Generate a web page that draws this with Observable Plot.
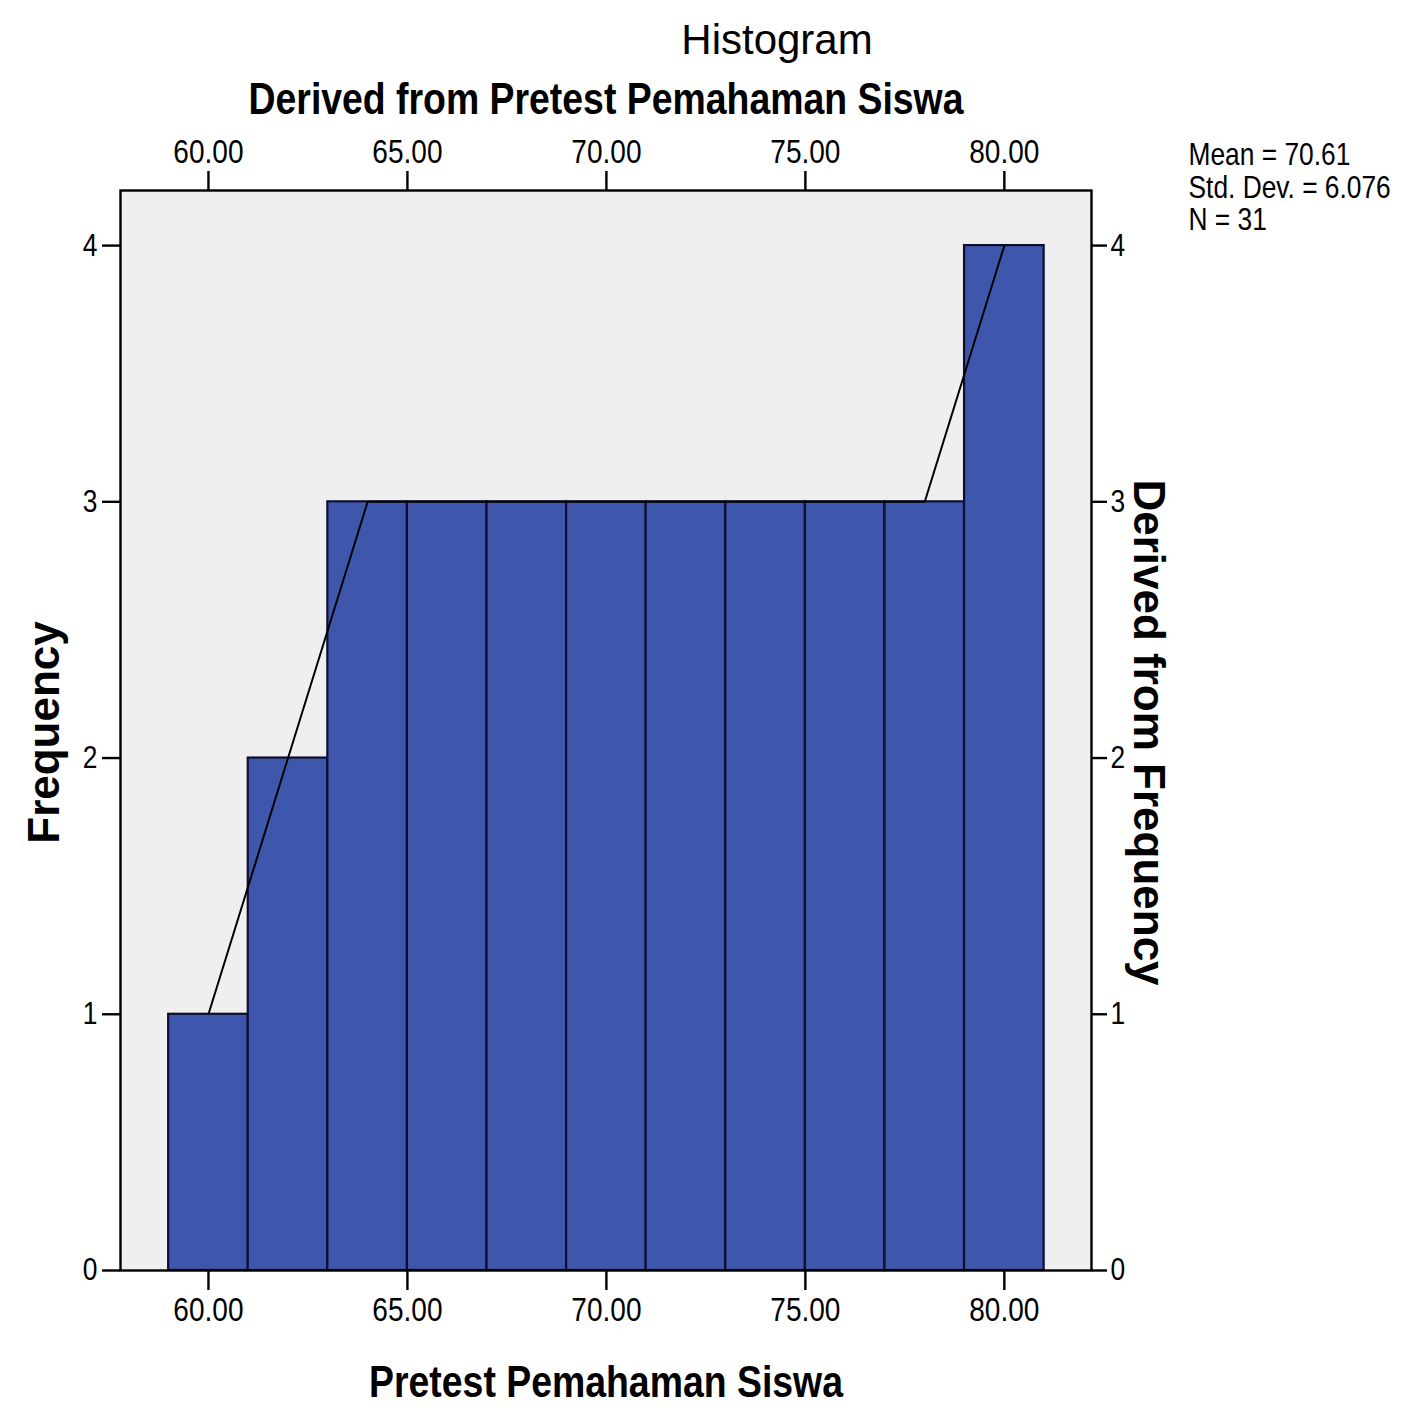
<!DOCTYPE html>
<html>
<head>
<meta charset="utf-8">
<script src="https://cdn.jsdelivr.net/npm/d3@7"></script>
<script src="https://cdn.jsdelivr.net/npm/@observablehq/plot@0.6"></script>
<style>
  html, body { margin: 0; padding: 0; background: #ffffff; }
  #chart { width: 1417px; height: 1416px; }
</style>
</head>
<body>
<div id="chart"></div>
<script>
// ---- data ----
const binCenters = [60, 62, 64, 66, 68, 70, 72, 74, 76, 78, 80];
const frequencies = [1, 2, 3, 3, 3, 3, 3, 3, 3, 3, 4];
const binWidth = 2;
const xTickValues = [60, 65, 70, 75, 80];
const yTickValues = [0, 1, 2, 3, 4];
const titleText = "Histogram";
const subtitleText = "Derived from Pretest Pemahaman Siswa";
const xLabelText = "Pretest Pemahaman Siswa";
const yLabelText = "Frequency";
const rightLabelText = "Derived from Frequency";
const statMean = "70.61";
const statStdDev = "6.076";
const statN = "31";

const bins = binCenters.map((c, i) => ({
  x1: c - binWidth / 2,
  x2: c + binWidth / 2,
  mid: c,
  count: frequencies[i]
}));
const statsText = `Mean = ${statMean}\nStd. Dev. = ${statStdDev}\nN = ${statN}`;
const fmt = d3.format(".2f");

const chart = Plot.plot({
  width: 1417,
  height: 1416,
  marginLeft: 120,
  marginRight: 326,
  marginTop: 190,
  marginBottom: 146,
  x: { domain: [57.79, 82.19] },
  y: { domain: [0, 4.215] },
  style: { fontFamily: "Liberation Sans, Arial, sans-serif", color: "black", background: "white", overflow: "visible" },
  marks: [
    Plot.frame({ fill: "#efefef", stroke: null }),
    Plot.rectY(bins, { x1: "x1", x2: "x2", y: "count", fill: "#3e57ad", stroke: "#0e0e30", strokeWidth: 2.2, inset: 0 }),
    Plot.line(bins, { x: "mid", y: "count", stroke: "#000", strokeWidth: 2 }),
    Plot.frame({ stroke: "#000", strokeWidth: 2.4 }),
    Plot.axisX({ anchor: "top", ticks: xTickValues, tickFormat: fmt, tickSize: 20, tickPadding: 8, label: null, fontSize: 33, strokeWidth: 2.4 }),
    Plot.axisX({ anchor: "bottom", ticks: xTickValues, tickFormat: fmt, tickSize: 20, tickPadding: 7, label: null, fontSize: 33, strokeWidth: 2.4 }),
    Plot.axisY({ anchor: "left", ticks: yTickValues, tickFormat: "d", tickSize: 18, tickPadding: 5, label: null, fontSize: 31, strokeWidth: 2.4 }),
    Plot.axisY({ anchor: "right", ticks: yTickValues, tickFormat: "d", tickSize: 15, tickPadding: 4, label: null, fontSize: 31, strokeWidth: 2.4 }),
    Plot.text([titleText], { frameAnchor: "top", text: d => d, dx: 171, dy: -150, textAnchor: "middle", lineAnchor: "middle", fontSize: 42 }),
    Plot.text([subtitleText], { frameAnchor: "top", text: d => d, dx: 0, dy: -91, textAnchor: "middle", lineAnchor: "middle", fontSize: 44, fontWeight: "bold" }),
    Plot.text([xLabelText], { frameAnchor: "bottom", text: d => d, dx: 0, dy: 112, textAnchor: "middle", lineAnchor: "middle", fontSize: 44, fontWeight: "bold" }),
    Plot.text([yLabelText], { frameAnchor: "left", text: d => d, dx: -76, dy: 2, rotate: -90, textAnchor: "middle", lineAnchor: "middle", fontSize: 44, fontWeight: "bold" }),
    Plot.text([rightLabelText], { frameAnchor: "right", text: d => d, dx: 57, dy: 2, rotate: 90, textAnchor: "middle", lineAnchor: "middle", fontSize: 44, fontWeight: "bold" }),
    Plot.text([statsText], { frameAnchor: "top-right", text: d => d, dx: 97, dy: -3, textAnchor: "start", lineAnchor: "middle", lineHeight: 1.05, fontSize: 31 })
  ]
});

// Narrow horizontal text (the reference's type is horizontally condensed)
const skip = new Set([titleText, yLabelText, rightLabelText]);
chart.querySelectorAll("text").forEach(t => {
  if (skip.has(t.textContent)) return;
  const tr = t.getAttribute("transform");
  if (tr && tr.includes("rotate")) return;
  if (tr) {
    t.setAttribute("transform", tr + " scale(0.85,1)");
  } else {
    const x = +(t.getAttribute("x") || 0), y = +(t.getAttribute("y") || 0);
    t.removeAttribute("x"); t.removeAttribute("y");
    t.setAttribute("transform", `translate(${x},${y}) scale(0.85,1)`);
  }
});

document.getElementById("chart").appendChild(chart);
</script>
</body>
</html>
